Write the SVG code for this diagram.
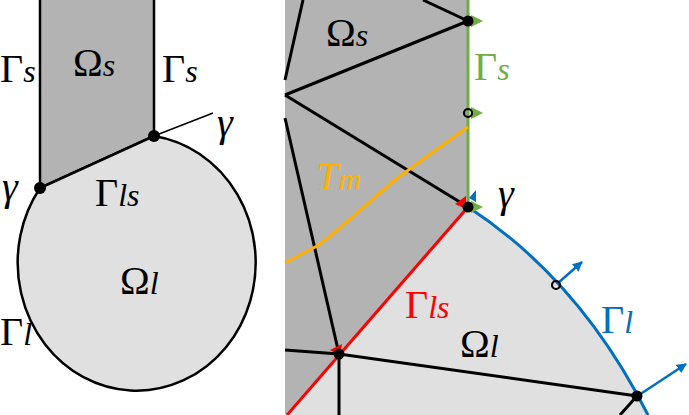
<svg xmlns="http://www.w3.org/2000/svg" width="689" height="415" viewBox="0 0 689 415">
<style>
text{font-family:"Liberation Serif","DejaVu Serif",serif;font-size:40px}
.i{font-style:italic}
.s{font-style:italic;font-size:32px}
.m{stroke:#000;stroke-width:3;fill:none}
</style>
<defs>
<marker id="ab" viewBox="0 0 10 10" refX="9" refY="5" markerWidth="4" markerHeight="4" orient="auto"><path d="M0,0L10,5L0,10z" fill="#0070c0"/></marker>
</defs>
<g id="left">
<path d="M40,0V188L154,136V0Z" fill="#b3b3b3"/>
<path d="M40,0V188L154,136V0" fill="none" stroke="#000" stroke-width="2.5"/>
<path d="M154,136A119,128 0 1 1 40,188L154,136Z" fill="#e0e0e0" stroke="#000" stroke-width="2.5"/>
<line x1="154" y1="136" x2="213" y2="113" stroke="#000" stroke-width="1.5"/>
<circle cx="40" cy="188" r="6"/><circle cx="154" cy="136" r="6"/>
<text x="0" y="82">Γ<tspan class="s">s</tspan></text>
<text x="73" y="76">Ω<tspan class="s">s</tspan></text>
<text x="162" y="82">Γ<tspan class="s">s</tspan></text>
<text x="217" y="136" class="i">γ</text>
<text x="2" y="200" class="i">γ</text>
<text x="95" y="206">Γ<tspan class="s">ls</tspan></text>
<text x="120" y="294">Ω<tspan class="s">l</tspan></text>
<text x="0" y="345">Γ<tspan class="s">l</tspan></text>
</g>
<g id="right">
<path d="M285,0H468V207L285,415Z" fill="#b3b3b3"/>
<path d="M468,207Q580,280 648,415H285Z" fill="#e0e0e0"/>
<g class="m">
<line x1="423" y1="0" x2="468" y2="21"/>
<line x1="285" y1="95" x2="468" y2="21"/>
<line x1="285" y1="95" x2="468" y2="207"/>
<line x1="303" y1="0" x2="285" y2="80"/>
<line x1="285" y1="118" x2="339" y2="354"/>
<polyline points="285,350 339,354 637,396"/>
<line x1="339" y1="354" x2="339" y2="415"/>
<line x1="637" y1="396" x2="620" y2="415"/>
</g>
<line x1="468" y1="0" x2="468" y2="207" stroke="#70ad47" stroke-width="3"/>
<line x1="468" y1="207" x2="287" y2="415" stroke="#ff0000" stroke-width="3"/>
<path d="M468,207Q580,280 648,415" fill="none" stroke="#0070c0" stroke-width="3"/>
<path d="M468,127C440,147 415,165 395,180 365,205 340,230 317,246L285,263" fill="none" stroke="#ffb000" stroke-width="3"/>
<g fill="#70ad47"><path d="M471,15L483,21L471,27z"/><path d="M471,107L483,113L471,119z"/><path d="M471,201L483,207L471,213z"/></g>
<g fill="#ff0000"><path d="M466,196L466,209L455,204z"/><path d="M342,344L340,356L330,350z"/></g>
<path d="M469,198L476,190L476,202z" fill="#0070c0"/>
<line x1="558" y1="283" x2="582" y2="262" stroke="#0070c0" stroke-width="2.5" marker-end="url(#ab)"/>
<line x1="639" y1="395" x2="686" y2="364" stroke="#0070c0" stroke-width="2.5" marker-end="url(#ab)"/>
<g><circle cx="468" cy="21" r="5.5"/><circle cx="468" cy="207" r="5.5"/><circle cx="339" cy="354" r="5.5"/><circle cx="637" cy="396" r="5.5"/></g>
<circle cx="468" cy="113" r="4" fill="none" stroke="#000" stroke-width="2.2"/>
<circle cx="556" cy="285" r="4" fill="none" stroke="#000" stroke-width="2.2"/>
<text x="326" y="46">Ω<tspan class="s">s</tspan></text>
<text x="474" y="80" fill="#70ad47">Γ<tspan class="s">s</tspan></text>
<text x="316" y="190" fill="#ffb000" class="i">T<tspan font-size="32">m</tspan></text>
<text x="498" y="207" class="i">γ</text>
<text x="405" y="318" fill="#ff0000">Γ<tspan class="s">ls</tspan></text>
<text x="460" y="357">Ω<tspan class="s">l</tspan></text>
<text x="601" y="333" fill="#0070c0">Γ<tspan class="s">l</tspan></text>
</g>
</svg>
